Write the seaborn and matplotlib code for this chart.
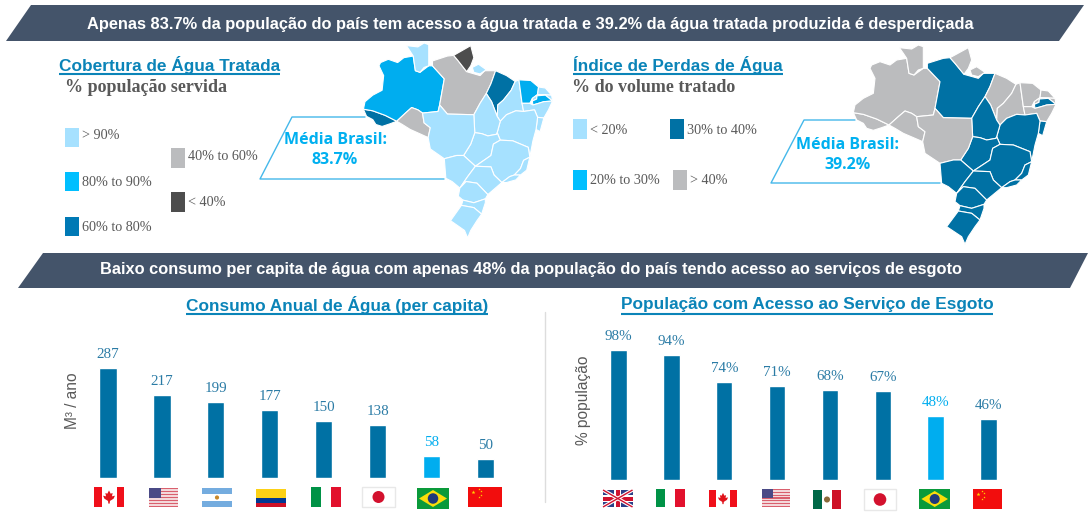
import numpy as np
import pandas as pd
import seaborn as sns
import matplotlib.pyplot as plt
from matplotlib.patches import Polygon, Rectangle, Circle
from matplotlib.transforms import Affine2D

sns.set_theme(style="white")
plt.rcParams['font.family'] = ['Liberation Sans', 'DejaVu Sans']

# chart values
consumo_paises = ["Canadá", "EUA", "Argentina", "Colômbia", "Itália", "Japão", "Brasil", "China"]
consumo_valores = [287, 217, 199, 177, 150, 138, 58, 50]
esgoto_paises = ["Reino Unido", "Itália", "Canadá", "EUA", "México", "Japão", "Brasil", "China"]
esgoto_valores = [98, 94, 74, 71, 68, 67, 48, 46]

cobertura_legenda = ["> 90%", "80% to 90%", "60% to 80%", "40% to 60%", "< 40%"]
perdas_legenda = ["< 20%", "20% to 30%", "30% to 40%", "> 40%"]

# state -> class, one dict per map
cobertura_estados = {
    "AC": "60% to 80%", "AM": "80% to 90%", "RR": "> 90%", "PA": "40% to 60%", "AP": "< 40%",
    "MJ": "> 90%", "RO": "40% to 60%", "MA": "60% to 80%", "PI": "> 90%", "CE": "80% to 90%",
    "RN": "> 90%", "PB": "> 90%", "PE": "80% to 90%", "AL": "> 90%", "SE": "> 90%", "BA": "> 90%",
    "TO": "> 90%", "GO": "> 90%", "MT": "> 90%", "MS": "> 90%", "MG": "> 90%", "ES": "> 90%",
    "RJ": "> 90%", "SP": "> 90%", "PR": "> 90%", "SC": "> 90%", "RS": "> 90%",
}
perdas_estados = {
    "AC": "> 40%", "AM": "> 40%", "RR": "> 40%", "PA": "30% to 40%", "AP": "> 40%",
    "MJ": "> 40%", "RO": "> 40%", "MA": "> 40%", "PI": "> 40%", "CE": "> 40%",
    "RN": "> 40%", "PB": "> 40%", "PE": "30% to 40%", "AL": "> 40%", "SE": "30% to 40%", "BA": "30% to 40%",
    "TO": "30% to 40%", "GO": "30% to 40%", "MT": "> 40%", "MS": "30% to 40%", "MG": "30% to 40%", "ES": "30% to 40%",
    "RJ": "30% to 40%", "SP": "30% to 40%", "PR": "30% to 40%", "SC": "30% to 40%", "RS": "30% to 40%",
}

# rough state outlines, traced by hand
estados = {
    "AC": [(40,203),(70,208),(110,222),(147,240),(125,248),(100,256),(80,250),(70,235),(50,225)],
    "AM": [(95,60),(120,50),(150,60),(170,45),(200,40),(207,85),(222,90),(250,70),(262,70),(300,110),(285,190),(280,210),(230,215),(215,205),(195,198),(175,215),(147,240),(110,222),(70,208),(40,203),(45,180),(70,160),(100,145),(105,100),(90,70)],
    "RR": [(178,8),(215,12),(235,0),(250,5),(250,70),(235,75),(222,90),(207,85),(200,40),(190,25)],
    "RO": [(147,240),(175,215),(195,198),(215,205),(230,215),(235,245),(255,260),(248,290),(225,280),(190,265),(165,250)],
    "PA": [(262,70),(262,55),(310,40),(330,38),(345,55),(372,88),(415,100),(430,85),(465,85),(450,125),(435,155),(415,185),(395,220),(310,218),(285,190),(300,110)],
    "AP": [(330,38),(385,8),(395,45),(385,70),(372,88),(345,55)],
    "MJ": [(390,75),(410,65),(435,82),(415,95),(395,90)],
    "MA": [(465,85),(500,100),(528,118),(515,145),(490,175),(472,190),(470,225),(452,180),(435,155),(450,125)],
    "PI": [(528,118),(540,113),(550,185),(555,210),(530,208),(500,220),(480,240),(470,225),(472,190),(490,175),(515,145)],
    "CE": [(540,113),(578,115),(603,135),(600,158),(583,170),(575,185),(550,185)],
    "RN": [(603,135),(625,138),(645,160),(600,158)],
    "PB": [(600,158),(645,160),(648,178),(625,160),(598,162),(597,172),(583,178),(583,170)],
    "PE": [(598,162),(625,160),(648,178),(620,180),(600,186),(585,190),(583,178),(597,172)],
    "AL": [(550,185),(575,185),(585,190),(600,186),(620,180),(648,178),(635,205),(620,230),(600,228),(590,205),(555,210)],
    "SE": [(600,228),(620,230),(608,272),(595,265)],
    "BA": [(480,240),(500,220),(530,208),(555,210),(590,205),(600,228),(595,265),(585,300),(575,350),(570,320),(520,300),(480,298),(470,275)],
    "TO": [(435,155),(452,180),(470,225),(480,240),(470,275),(468,280),(440,285),(420,278),(398,275),(395,220),(415,185)],
    "GO": [(398,275),(420,278),(440,285),(468,280),(470,275),(480,298),(458,310),(450,345),(400,378),(362,345),(385,310)],
    "MT": [(285,190),(310,218),(395,220),(398,275),(385,310),(362,345),(340,345),(300,355),(255,325),(248,290),(255,260),(235,245),(230,215),(280,210)],
    "MS": [(300,355),(340,345),(362,345),(400,378),(375,410),(350,445),(325,425),(305,415)],
    "MG": [(458,310),(480,298),(520,300),(570,320),(575,350),(555,360),(545,385),(525,405),(510,410),(485,428),(460,405),(450,380),(400,378),(450,345)],
    "ES": [(575,350),(565,390),(545,405),(525,405),(545,385),(555,360)],
    "RJ": [(485,428),(510,410),(525,405),(545,405),(530,420),(500,428)],
    "SP": [(400,378),(450,380),(460,405),(485,428),(440,465),(405,430),(370,425),(350,445),(375,410)],
    "PR": [(370,425),(405,430),(440,465),(432,478),(395,490),(360,482),(345,470),(350,445)],
    "SC": [(360,482),(395,490),(432,478),(432,490),(420,525),(395,505),(355,498)],
    "RS": [(355,498),(395,505),(420,525),(405,545),(385,575),(375,598),(365,575),(320,545)],
}

escuro = "#0071A4"
claro = "#00ADEF"
banner_cor = "#44546A"
titulo_cor = "#0B84B8"
cinza_texto = "#595959"
rotulo_cor = "#2A7BA5"

cores_cobertura = {"> 90%": "#A6E1FF", "80% to 90%": claro, "60% to 80%": escuro, "40% to 60%": "#BBBCBE", "< 40%": "#4D4D4D"}
cores_perdas = {"< 20%": "#A6E1FF", "20% to 30%": "#00BFFF", "30% to 40%": escuro, "> 40%": "#BBBCBE"}

W, H = 1088, 518
fig = plt.figure(figsize=(W / 100, H / 100), dpi=100)
fig.patch.set_facecolor("white")

# whole figure in pixel coordinates, for the slide furniture
bg = fig.add_axes([0, 0, 1, 1])
bg.set_xlim(0, W)
bg.set_ylim(H, 0)
bg.axis("off")


def add_title(text, x0, x1, y):
    bg.text(x0, y, text, fontsize=12.4, fontweight="bold", color=titulo_cor, va="center", ha="left")
    bg.plot([x0, x1], [y + 9, y + 9], color=titulo_cor, lw=1.5, solid_capstyle="butt")


def swatch(x, y, h, cor, label, dy=1, dx=17):
    bg.add_patch(Rectangle((x, y), 14, h, facecolor=cor, edgecolor="none"))
    bg.text(x + dx, y + h / 2 + dy, label, fontsize=10.2, family="Liberation Serif", color=cinza_texto, va="center")


def callout(tl, bl, br, tr, cx, y1, y2, v):
    bg.plot([tr[0], tl[0], bl[0], br[0]], [tr[1], tl[1], bl[1], br[1]], color="#45B8EA", lw=1)
    bg.text(cx, y1, "Média Brasil:", fontsize=11.5, fontweight="bold", family="Open Sans", color="#00B0F0", ha="center", va="center", zorder=6)
    bg.text(cx, y2, v, fontsize=11.5, fontweight="bold", family="Open Sans", color="#00B0F0", ha="center", va="center", zorder=6)


def draw_map(classes, cores, sx, sy, ox, oy):
    tr = Affine2D().scale(sx, sy).translate(ox, oy) + bg.transData
    for uf, pts in estados.items():
        bg.add_patch(Polygon(pts, closed=True, facecolor=cores[classes[uf]], edgecolor="white", lw=0.8, transform=tr, zorder=3))


# banners
bg.add_patch(Polygon([(6, 41), (31, 5), (1084, 5), (1059, 41)], facecolor=banner_cor, edgecolor="none"))
bg.add_patch(Polygon([(18, 288), (43, 253), (1088, 253), (1070, 288)], facecolor=banner_cor, edgecolor="none"))
bg.text(530.5, 24, "Apenas 83.7% da população do país tem acesso a água tratada e 39.2% da água tratada produzida é desperdiçada",
        fontsize=11.8, fontweight="bold", color="white", ha="center", va="center")
bg.text(530.5, 269.5, "Baixo consumo per capita de água com apenas 48% da população do país tendo acesso ao serviços de esgoto",
        fontsize=11.75, fontweight="bold", color="white", ha="center", va="center")

# top left panel
add_title("Cobertura de Água Tratada", 59, 280, 65)
bg.text(65, 88, "% população servida", fontsize=13, fontweight="bold", family="Liberation Serif", color=cinza_texto, va="center")
swatch(65, 128, 19, cores_cobertura["> 90%"], cobertura_legenda[0], dy=-2)
swatch(65, 172, 19, "#00BFFF", cobertura_legenda[1])
swatch(65, 217, 19, "#0079B5", cobertura_legenda[2])
swatch(171, 148, 20, cores_cobertura["40% to 60%"], cobertura_legenda[3], dy=-1)
swatch(171, 192, 20, cores_cobertura["< 40%"], cobertura_legenda[4])
callout((292, 117), (260, 179), (444, 179), (365, 117), 335, 140, 160, "83.7%")
draw_map(cobertura_estados, cores_cobertura, 0.311, 0.326, 351, 43)

# top right panel
add_title("Índice de Perdas de Água", 573, 783, 65)
bg.text(572, 88, "% do volume tratado", fontsize=13, fontweight="bold", family="Liberation Serif", color=cinza_texto, va="center")
swatch(573, 119, 20, cores_perdas["< 20%"], perdas_legenda[0])
swatch(573, 170, 20, cores_perdas["20% to 30%"], perdas_legenda[1])
swatch(670, 119, 20, cores_perdas["30% to 40%"], perdas_legenda[2])
swatch(673, 170, 20, cores_perdas["> 40%"], perdas_legenda[3])
callout((804, 120), (771, 183), (940, 183), (855, 120), 848, 145, 165, "39.2%")
draw_map(perdas_estados, cores_perdas, 1 / 3, 1 / 3, 840, 45)

# lower panel titles and divider
add_title("Consumo Anual de Água (per capita)", 186, 488, 305)
add_title("População com Acesso ao Serviço de Esgoto", 621, 993, 305)
bg.plot([545, 545], [312, 502], color="#DDDDDD", lw=1)


def bar_panel(paises, valores, x0, x1, base, top, ymax, largura, sufixo, ylabel, ylab_x, ylab_y):
    ax = fig.add_axes([x0 / W, 1 - base / H, (x1 - x0) / W, (base - top) / H])
    ax.patch.set_alpha(0)
    df = pd.DataFrame({"pais": paises, "valor": valores})
    pal = {p: (claro if p == "Brasil" else escuro) for p in paises}
    sns.barplot(data=df, x="pais", y="valor", hue="pais", palette=pal, legend=False,
                width=largura, saturation=1, ax=ax)
    ax.set_ylim(0, ymax)
    ax.set_xlim(-0.5, len(paises) - 0.5)
    ax.set_xticks([])
    ax.set_yticks([])
    ax.set_xlabel("")
    ax.set_ylabel(ylabel, fontsize=11.2, color=cinza_texto)
    ax.yaxis.set_label_coords((ylab_x - x0) / (x1 - x0), ylab_y)
    sns.despine(ax=ax, left=True, bottom=True)
    for cont, p in zip(ax.containers, paises):
        ax.bar_label(cont, labels=[f"{v:.0f}{sufixo}" for v in cont.datavalues], padding=5, fontsize=10.8,
                     family="Liberation Serif", color="#00ADEF" if p == "Brasil" else rotulo_cor)
    return ax


ax1 = bar_panel(consumo_paises, consumo_valores, 81, 512.4, 478, 340, 138 / 0.383, 0.32, "", "M³ / ano", 80, 0.558)
ax2 = bar_panel(esgoto_paises, esgoto_valores, 592.2, 1014.9, 480, 330, 150 / 1.327, 0.31, "%", "% população", 591, 0.533)


# small flags under the bars
def box(x0, y0, x1, y1, cor):
    bg.add_patch(Rectangle((x0, y0), x1 - x0, y1 - y0, facecolor=cor, edgecolor="none"))


def leaf(cx, cy, r, cor="#E0131B"):
    pts = [(0, -1), (0.25, -0.5), (0.55, -0.6), (0.45, -0.1), (0.9, -0.2), (0.7, 0.25), (0.15, 0.6), (0.1, 1),
           (-0.1, 1), (-0.15, 0.6), (-0.7, 0.25), (-0.9, -0.2), (-0.45, -0.1), (-0.55, -0.6), (-0.25, -0.5)]
    bg.add_patch(Polygon([(cx + r * a, cy + r * b) for a, b in pts], facecolor=cor, edgecolor="none"))


def flag(nome, x0, y0, x1, y1):
    w, h = x1 - x0, y1 - y0
    cx, cy = (x0 + x1) / 2, (y0 + y1) / 2
    if nome == "Canadá":
        box(x0, y0, x0 + w * 0.25, y1, "#F00F1A")
        box(x1 - w * 0.25, y0, x1, y1, "#F00F1A")
        leaf(cx, cy, h * 0.33)
    elif nome == "EUA":
        for i in range(7):
            y = y0 + i * h / 6.5
            box(x0, y, x1, y + h / 13, "#D9606E")
            if i < 6:
                box(x0, y + h / 13, x1, y + h / 6.5, "#F3D8DA")
        box(x0, y0, x0 + w * 0.42, y0 + h * 0.52, "#4A4A86")
    elif nome == "Argentina":
        box(x0, y0, x1, y0 + h / 3, "#74ACDF")
        box(x0, y1 - h / 3, x1, y1, "#74ACDF")
        bg.add_patch(Circle((cx, cy), h * 0.11, facecolor="#C8882A", edgecolor="none"))
    elif nome == "Colômbia":
        box(x0, y0, x1, cy, "#FCD116")
        box(x0, cy, x1, y1 - h / 4, "#003893")
        box(x0, y1 - h / 4, x1, y1, "#CE1126")
    elif nome == "Itália":
        box(x0, y0, x0 + w / 3, y1, "#009246")
        box(x1 - w / 3, y0, x1, y1, "#E2112D")
    elif nome == "Japão":
        bg.add_patch(Rectangle((x0, y0), w, h, facecolor="white", edgecolor="#E8E8E8", lw=1))
        bg.add_patch(Circle((cx, cy), h * 0.3, facecolor="#D3112E", edgecolor="none"))
    elif nome == "Brasil":
        box(x0, y0, x1, y1, "#0A9A3A")
        bg.add_patch(Polygon([(x0 + 2, cy), (cx, y0 + 2), (x1 - 2, cy), (cx, y1 - 2)], facecolor="#FBDD0A", edgecolor="none"))
        bg.add_patch(Circle((cx, cy), h * 0.25, facecolor="#1F3A7A", edgecolor="none"))
    elif nome == "China":
        box(x0, y0, x1, y1, "#F20D0D")
        bg.scatter([x0 + w * 0.16], [y0 + h * 0.25], s=9, marker="*", color="#FFD800", linewidths=0)
        bg.scatter([x0 + w * f for f in (0.32, 0.38, 0.38, 0.32)], [y0 + h * f for f in (0.1, 0.22, 0.38, 0.5)],
                   s=3, marker="*", color="#FFD800", linewidths=0)
    elif nome == "Reino Unido":
        box(x0, y0, x1, y1, "#2B3F87")
        bg.plot([x0, x1], [y0, y1], color="white", lw=2.6, solid_capstyle="butt")
        bg.plot([x0, x1], [y1, y0], color="white", lw=2.6, solid_capstyle="butt")
        bg.plot([x0, x1], [y0, y1], color="#D0122F", lw=1, solid_capstyle="butt")
        bg.plot([x0, x1], [y1, y0], color="#D0122F", lw=1, solid_capstyle="butt")
        box(cx - 3.5, y0, cx + 3.5, y1, "white")
        box(x0, cy - 3.5, x1, cy + 3.5, "white")
        box(cx - 2, y0, cx + 2, y1, "#D0122F")
        box(x0, cy - 2, x1, cy + 2, "#D0122F")
    elif nome == "México":
        box(x0, y0, x0 + w / 3, y1, "#006847")
        box(x1 - w / 3, y0, x1, y1, "#CE1126")
        bg.add_patch(Circle((cx, cy), h * 0.16, facecolor="#8A6A3A", edgecolor="none"))


flags_consumo = [(94, 487, 124, 507), (148.5, 488, 178, 507), (202, 488, 232, 507), (256, 489, 286, 507),
                 (310.5, 487, 341, 507), (362, 487, 395, 507), (417, 488, 449, 509), (468, 487, 502, 507)]
flags_esgoto = [(603, 490, 632.5, 507), (655.7, 489, 685, 507), (709, 490, 737, 507), (761.5, 489, 790, 507),
                (813, 490, 841, 509), (864, 489, 896, 510), (919.4, 489, 950, 509), (973, 489, 1002, 509)]
for nome, b in zip(consumo_paises, flags_consumo):
    flag(nome, *b)
for nome, b in zip(esgoto_paises, flags_esgoto):
    flag(nome, *b)

plt.savefig("out.png", dpi=100)
plt.close()
